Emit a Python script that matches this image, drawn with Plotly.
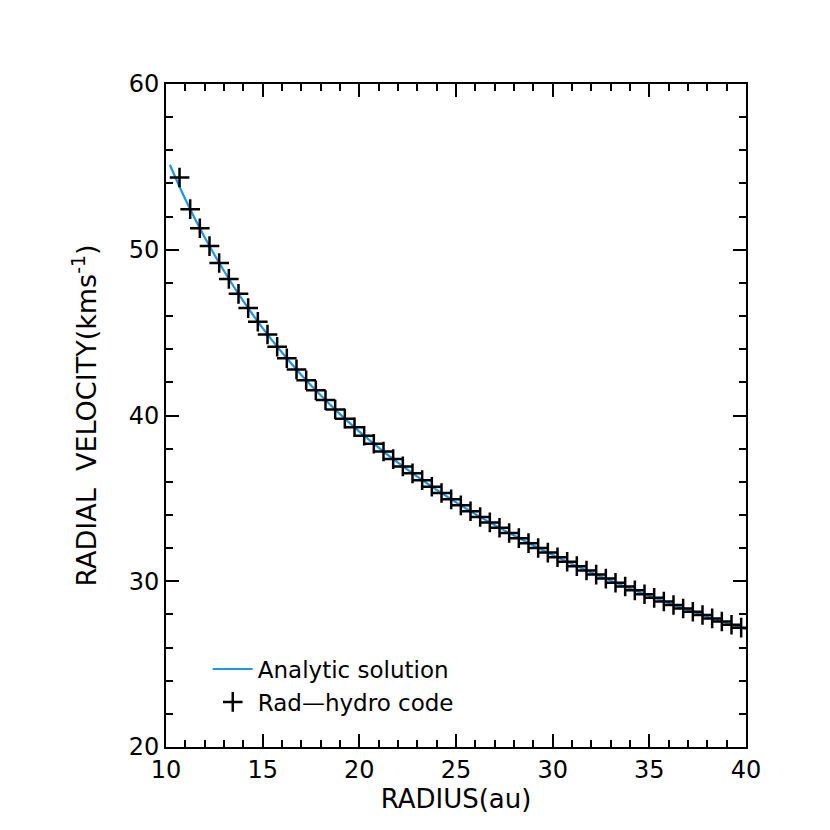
import plotly.graph_objects as go

# Rad-hydro code (markers)
radius_code = [10.7, 11.25, 11.75, 12.25, 12.75, 13.25, 13.75, 14.25, 14.75, 15.25,
               15.75, 16.25, 16.75, 17.25, 17.75, 18.25, 18.75, 19.25, 19.75, 20.25,
               20.75, 21.25, 21.75, 22.25, 22.75, 23.25, 23.75, 24.25, 24.75, 25.25,
               25.75, 26.25, 26.75, 27.25, 27.75, 28.25, 28.75, 29.25, 29.75, 30.25,
               30.75, 31.25, 31.75, 32.25, 32.75, 33.25, 33.75, 34.25, 34.75, 35.25,
               35.75, 36.25, 36.75, 37.25, 37.75, 38.25, 38.75, 39.25, 39.75]
velocity_code = [54.36, 52.45, 51.30, 50.22, 49.20, 48.24, 47.34, 46.48, 45.66, 44.89,
                 44.15, 43.45, 42.78, 42.13, 41.52, 40.93, 40.36, 39.81, 39.29, 38.78,
                 38.30, 37.83, 37.37, 36.93, 36.51, 36.10, 35.70, 35.32, 34.94, 34.58,
                 34.22, 33.88, 33.55, 33.23, 32.91, 32.60, 32.30, 32.01, 31.73, 31.45,
                 31.18, 30.91, 30.65, 30.40, 30.16, 29.91, 29.68, 29.45, 29.22, 29.00,
                 28.78, 28.57, 28.36, 28.16, 27.96, 27.76, 27.57, 27.38, 27.20]

# Analytic solution (line)
radius_analytic = [10.2, 11, 12, 13, 14, 15, 16, 17, 18, 19, 20, 22, 24, 26, 28, 30,
                   32, 34, 36, 38, 40]
velocity_analytic = [55.13, 53.05, 50.75, 48.72, 46.90, 45.27, 43.80, 42.45, 41.22,
                     40.08, 39.03, 37.15, 35.51, 34.05, 32.76, 31.59, 30.53, 29.56,
                     28.68, 27.86, 27.11]

FONT = "DejaVu Sans"

fig = go.Figure()
fig.add_trace(go.Scatter(
    x=radius_analytic, y=velocity_analytic, mode="lines",
    line=dict(color="#1E96E6", width=2.2, shape="spline"),
    name="Analytic solution"))
fig.add_trace(go.Scatter(
    x=radius_code, y=velocity_code, mode="markers",
    marker=dict(symbol="cross-thin", size=14, line=dict(color="black", width=2.5)),
    name="Rad\u2014hydro code"))

axis_common = dict(
    showline=True, linecolor="black", linewidth=2, mirror="ticks",
    ticks="inside", ticklen=13, tickwidth=2, tickcolor="black",
    showgrid=False, zeroline=False,
    tickfont=dict(family=FONT, size=24, color="black"),
)

fig.update_xaxes(range=[10, 40], dtick=5, tick0=10,
                 minor=dict(dtick=1, ticks="inside", ticklen=7, tickwidth=2,
                            tickcolor="black", showgrid=False),
                 title=dict(text="RADIUS(au)", font=dict(family=FONT, size=26, color="black"),
                            standoff=4),
                 **axis_common)
fig.update_yaxes(range=[20, 60], dtick=10, tick0=20,
                 minor=dict(dtick=2, ticks="inside", ticklen=7, tickwidth=2,
                            tickcolor="black", showgrid=False),
                 title=dict(text="RADIAL  VELOCITY(kms<sup>-1</sup>)",
                            font=dict(family=FONT, size=27, color="black"), standoff=24),
                 **axis_common)

fig.update_layout(
    width=830, height=830,
    margin=dict(l=158, r=92, t=76, b=91),
    paper_bgcolor="white", plot_bgcolor="white",
    showlegend=True,
    legend=dict(x=0.072, y=0.15, xanchor="left", yanchor="top",
                bgcolor="rgba(0,0,0,0)", font=dict(family=FONT, size=23, color="black"),
                itemwidth=40, tracegroupgap=0),
    hovermode=False,
)

fig.write_html("out.html")
